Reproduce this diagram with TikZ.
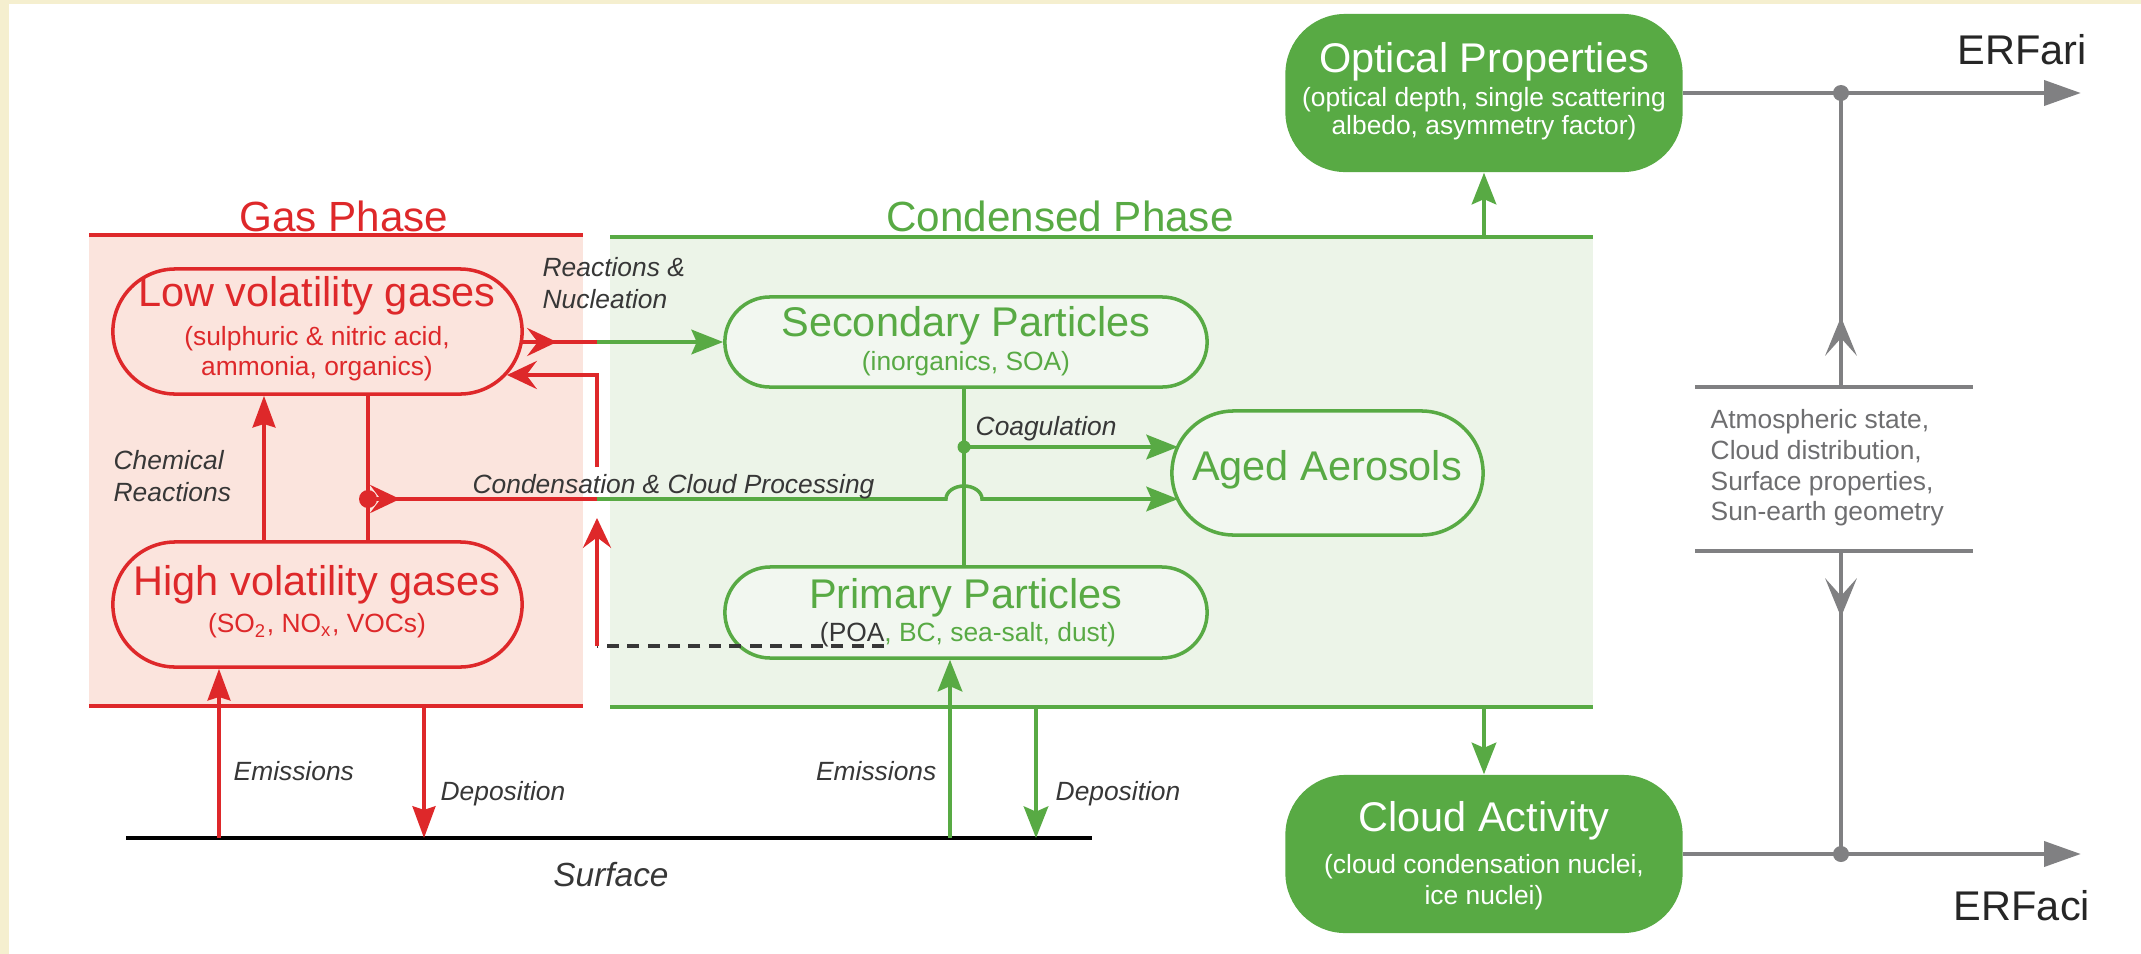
\documentclass[tikz,border=0pt]{standalone}
\usepackage{fontspec}
\setmainfont{Liberation Sans}
\usetikzlibrary{arrows.meta,shapes.misc}
\definecolor{gred}{RGB}{222,40,42}
\definecolor{rfill}{RGB}{251,228,221}
\definecolor{ggreen}{RGB}{88,170,68}
\definecolor{gfill}{RGB}{236,244,232}
\definecolor{nfill}{RGB}{242,247,240}
\definecolor{ggray}{RGB}{128,128,130}
\definecolor{labgray}{RGB}{55,55,55}
\definecolor{atmgray}{RGB}{110,110,112}
\definecolor{cream}{RGB}{245,239,207}
\begin{document}
\begin{tikzpicture}[x=0.01cm,y=-0.01cm,
  bigt/.style={font=\fontsize{11.8}{14}\selectfont,inner sep=0pt},
  subt/.style={font=\fontsize{7.5}{9}\selectfont,inner sep=0pt},
  lab/.style={font=\fontsize{7.5}{9}\selectfont\itshape,text=labgray,inner sep=0pt},
  pill/.style={rounded rectangle,inner sep=0pt,line width=1pt},
  rpill/.style={pill,draw=gred,fill=rfill},
  gpill/.style={pill,draw=ggreen,fill=nfill},
  fpill/.style={rectangle,rounded corners=17pt,fill=ggreen,inner sep=0pt,minimum width=3.97cm,minimum height=1.58cm},
  regline/.style={line width=1.2pt},
  rline/.style={draw=gred,line width=1pt},
  gline/.style={draw=ggreen,line width=1pt},
  grline/.style={draw=ggray,line width=1.4pt},
  grvline/.style={draw=ggray,line width=1.1pt},
  redtri/.tip={Stealth[length=9pt,width=6.5pt,inset=1pt]},
  redchev/.tip={Stealth[length=8.5pt,width=8pt,inset=3pt]},
  greentri/.tip={Stealth[length=9pt,width=7pt,inset=1.5pt]},
  graytri/.tip={Triangle[length=10.5pt,width=7pt]},
  graychev/.tip={Stealth[length=11pt,width=9pt,inset=5pt]}
]
\useasboundingbox (0,0) rectangle (2141,954);
\fill[white] (0,0) rectangle (2141,954);
\fill[cream] (0,0) rectangle (9,954);
\fill[cream] (0,0) rectangle (2141,4);

% regions
\fill[rfill] (89,235) rectangle (583,706);
\draw[gred,regline] (89,235) -- (583,235);
\draw[gred,regline] (89,706) -- (583,706);
\fill[gfill] (610,237) rectangle (1593,707);
\draw[ggreen,regline] (610,237) -- (1593,237);
\draw[ggreen,regline] (610,707) -- (1593,707);
\node[font=\fontsize{12}{14}\selectfont,text=gred,inner sep=0pt] (gasT) at (344,216) {Gas Phase};
\node[font=\fontsize{12}{14}\selectfont,text=ggreen,inner sep=0pt] (condT) at (1060,216) {Condensed Phase};

% gas nodes
\node[rpill,minimum width=4.09cm,minimum height=1.25cm] (lowv) at (317.5,331.5) {};
\node[bigt,text=gred] (lowvT) at (317,296) {Low volatility gases};
\node[subt,text=gred] (lowvS1) at (317,339) {(sulphuric \& nitric acid,};
\node[subt,text=gred] (lowvS2) at (317,369) {ammonia, organics)};
\node[rpill,minimum width=4.09cm,minimum height=1.25cm] (highv) at (317.5,604.5) {};
\node[bigt,text=gred] (highvT) at (317,585) {High volatility gases};
\node[subt,text=gred] (highvS) at (317,626) {(SO\textsubscript{2}, NO\textsubscript{x}, VOCs)};

% condensed nodes
\node[gpill,minimum width=4.82cm,minimum height=0.9cm] (sec) at (966,342) {};
\node[bigt,text=ggreen] (secT) at (966,326) {Secondary Particles};
\node[subt,text=ggreen] (secS) at (966,364) {(inorganics, SOA)};
\node[gpill,minimum width=4.82cm,minimum height=0.91cm] (prim) at (966,612.5) {};
\node[bigt,text=ggreen] (primT) at (966,598) {Primary Particles};
\node[subt,text=ggreen] (primS) at (968,635) {{\color{labgray}(POA}, BC, sea-salt, dust)};
\node[gpill,minimum width=3.11cm,minimum height=1.24cm] (aged) at (1327.5,473) {};
\node[bigt,text=ggreen] (agedT) at (1327,470) {Aged Aerosols};

% filled nodes
\node[fpill] (opt) at (1484,93) {};
\node[bigt,text=white] (optT) at (1484,62) {Optical Properties};
\node[subt,text=white] (optS1) at (1484,100) {(optical depth, single scattering};
\node[subt,text=white] (optS2) at (1484,128) {albedo, asymmetry factor)};
\node[fpill] (cloud) at (1484,854) {};
\node[bigt,text=white] (cloudT) at (1484,821) {Cloud Activity};
\node[subt,text=white] (cloudS1) at (1484,867) {(cloud condensation nuclei,};
\node[subt,text=white] (cloudS2) at (1484,898) {ice nuclei)};

% coordinates
\coordinate (xchem) at (264,0);
\coordinate (xdown) at (368,0);
\coordinate (xret) at (597,0);
\coordinate (xv) at (964,0);
\coordinate (rdot) at (368,499);
\coordinate (lowvR) at (521,342);
\coordinate (lowvR2) at (507,375);
\coordinate (retTop) at (597,375);
\coordinate (poa) at (884,646);
\coordinate (retBot) at (597,646);
\coordinate (retTip) at (597,518);
\coordinate (retRe) at (597,467);
\coordinate (bump) at (946,499);
\coordinate (agedLo) at (1178,499);
\coordinate (gdot) at (964,447);
\coordinate (agedHi) at (1178,447);

% gas phase connectors
\draw[rline,-{redtri}] (highv.north -| xchem) -- (lowv.south -| xchem);
\draw[rline] (lowv.south -| xdown) -- (highv.north -| xdown);
\fill[gred] (rdot) circle[radius=9];
\draw[rline] (rdot) -- (rdot -| xret);
\draw[rline,-{redchev}] (rdot) -- ++(32,0);
\draw[gline,-{greentri}] (rdot -| xret) -- (bump) arc[start angle=180,end angle=360,x radius=18,y radius=13] -- (agedLo);

\draw[rline] (lowvR) -- (lowvR -| xret);
\draw[rline,-{redchev}] (lowvR) -- ++(36,0);
\draw[gline,-{greentri}] (lowvR -| xret) -- (sec.west);

\draw[labgray,line width=0.9pt,dash pattern=on 3.4pt off 2.4pt] (poa) -- (retBot);
\draw[rline,-{redchev}] (retBot) -- (retTip);
\draw[rline,-{redchev}] (retRe) -- (retTop) -- (lowvR2);

% condensed connectors
\draw[gline] (sec.south -| xv) -- (prim.north -| xv);
\fill[ggreen] (gdot) circle[radius=6.5];
\draw[gline,-{greentri}] (gdot) -- (agedHi);

% labels
\node[lab,anchor=west] (rnA) at (542,267) {Reactions \&};
\node[lab,anchor=west] (rnB) at (542,299) {Nucleation};
\node[lab,anchor=west] (chA) at (113,460) {Chemical};
\node[lab,anchor=west] (chB) at (113,492) {Reactions};
\node[lab,anchor=west] (ccp) at (472,487) {Condensation \& Cloud Processing};
\node[lab,anchor=west] (coag) at (975,429) {Coagulation};

% surface
\coordinate (surfL) at (126,838);
\coordinate (surfR) at (1092,838);
\draw[black,line width=1.3pt] (surfL) -- (surfR);
\node[font=\fontsize{9.5}{11}\selectfont\itshape,text=labgray,inner sep=0pt] (surfT) at (611,875) {Surface};
\coordinate (emR) at (219,838);
\coordinate (depRt) at (424,706);
\coordinate (depRb) at (424,838);
\coordinate (emG) at (950,838);
\coordinate (depGt) at (1036,707);
\coordinate (depGb) at (1036,838);
\draw[rline,-{redtri}] (emR) -- (highv.south -| emR);
\draw[rline,-{redtri}] (depRt) -- (depRb);
\draw[gline,-{greentri}] (emG) -- (prim.south -| emG);
\draw[gline,-{greentri}] (depGt) -- (depGb);
\node[lab,anchor=west] (emRT) at (233,771) {Emissions};
\node[lab,anchor=west] (depRT) at (440,794) {Deposition};
\node[lab,anchor=east] (emGT) at (937,771) {Emissions};
\node[lab,anchor=west] (depGT) at (1055,794) {Deposition};

% optical / cloud links
\coordinate (gtop) at (1484,237);
\coordinate (gbot) at (1484,707);
\draw[gline,-{greentri}] (gtop) -- (opt.south);
\draw[gline,-{greentri}] (gbot) -- (cloud.north);

% gray ERF part
\coordinate (ariEnd) at (2081,93);
\coordinate (aciEnd) at (2081,854);
\coordinate (ariDot) at (1841,93);
\coordinate (aciDot) at (1841,854);
\coordinate (hTopL) at (1695,387);
\coordinate (hTopR) at (1973,387);
\coordinate (hBotL) at (1695,551);
\coordinate (hBotR) at (1973,551);
\coordinate (vTop) at (1841,387);
\coordinate (vBot) at (1841,551);
\draw[grline,-{graytri}] (opt.east) -- (ariEnd);
\draw[grline,-{graytri}] (cloud.east) -- (aciEnd);
\fill[ggray] (ariDot) circle[radius=8];
\fill[ggray] (aciDot) circle[radius=8];
\draw[grline] (hTopL) -- (hTopR);
\draw[grline] (hBotL) -- (hBotR);
\draw[grvline] (vTop) -- (ariDot);
\draw[grvline,-{graychev}] (vTop) -- ++(0,-70);
\draw[grvline] (vBot) -- (aciDot);
\draw[grvline,-{graychev}] (vBot) -- ++(0,66);
\node[font=\fontsize{7.5}{9}\selectfont,text=atmgray,inner sep=0pt,anchor=west] (at1) at (1710,422) {Atmospheric state,};
\node[font=\fontsize{7.5}{9}\selectfont,text=atmgray,inner sep=0pt,anchor=west] (at2) at (1710,452) {Cloud distribution,};
\node[font=\fontsize{7.5}{9}\selectfont,text=atmgray,inner sep=0pt,anchor=west] (at3) at (1710,484) {Surface properties,};
\node[font=\fontsize{7.5}{9}\selectfont,text=atmgray,inner sep=0pt,anchor=west] (at4) at (1710,514) {Sun-earth geometry};
\node[bigt,text=black!85] (ari) at (2022,50) {ERFari};
\node[bigt,text=black!85] (aci) at (2022,906) {ERFaci};
\end{tikzpicture}
\end{document}
